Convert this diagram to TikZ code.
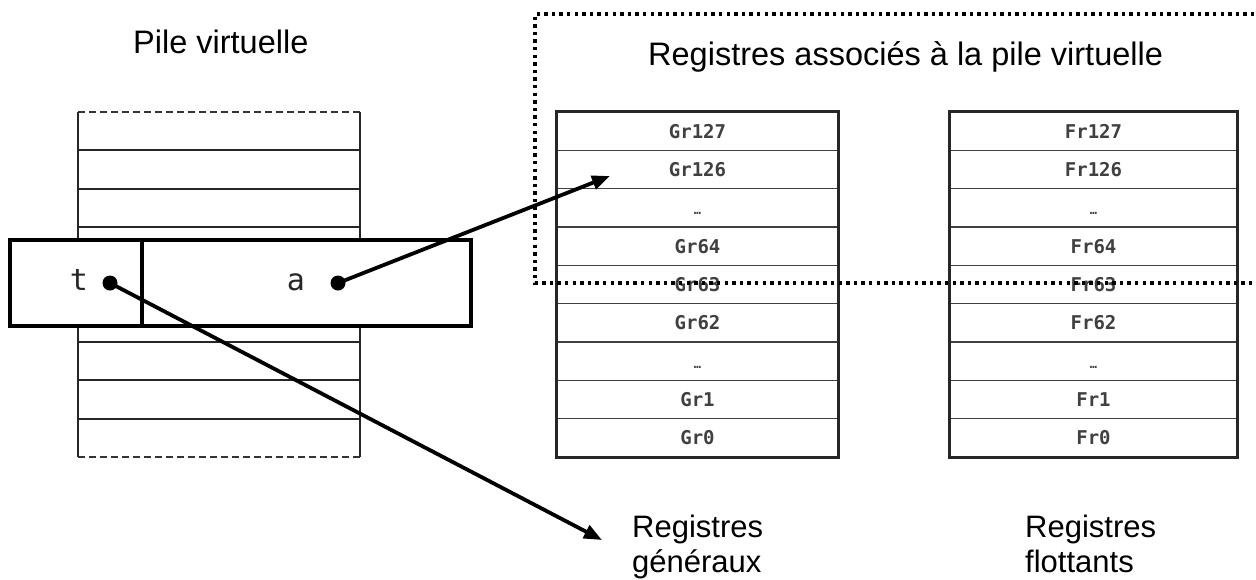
\documentclass[tikz,border=0pt]{standalone}
\usepackage{fontspec}
\setmainfont{Liberation Sans}
\newfontfamily\monofont{DejaVu Sans Mono}
\usetikzlibrary{arrows.meta}
\newcommand\regdots{{\fontsize{12}{12}\selectfont …}}
\begin{document}
\begin{tikzpicture}[x=1pt,y=-1pt,
  stackline/.style={line width=1.8pt, draw=black!85},
  stackside/.style={line width=2.8pt, draw=black!85},
  stackend/.style={line width=1.5pt, draw=black!80, dash pattern=on 7pt off 4pt},
  cellbox/.style={draw=black, line width=3.4pt, fill=white, inner sep=0pt, minimum height=86pt},
  vartext/.style={font=\monofont\fontsize{30}{30}\selectfont, text=black!85, inner sep=0pt},
  dotnode/.style={circle, fill=black, inner sep=0pt, minimum size=15pt},
  regcell/.style={draw=black!75, line width=1.5pt, inner sep=0pt, minimum height=38.33pt,
    text height=14pt, text depth=0pt, font=\monofont\bfseries\fontsize{19}{19}\selectfont, text=black!75},
  regouter/.style={draw=black!85, line width=2.6pt},
  dotline/.style={line width=3.4pt, dash pattern=on 3.4pt off 4.2pt, draw=black},
  ptr/.style={line width=3.8pt, -{Triangle[length=18pt,width=14pt]}},
  titletext/.style={font=\fontsize{32.5}{36}\selectfont, inner sep=0pt},
  labeltext/.style={font=\fontsize{31}{35}\selectfont, inner sep=0pt, align=left}]
\useasboundingbox (0,0) rectangle (1256,579);
\fill[white] (0,0) rectangle (1256,579);

% virtual stack
\foreach \k in {1,...,8} {
  \draw[stackline] (78,{112+38.33*\k}) -- (360,{112+38.33*\k});
}
\draw[stackend] (78,112) -- (360,112);
\draw[stackend] (78,457) -- (360,457);
\draw[stackside] (78,112) -- (78,457);
\draw[stackside] (360,112) -- (360,457);

% t / a frame
\node[cellbox, minimum width=132pt] (tcell) at (76,283) {};
\node[cellbox, minimum width=329pt] (acell) at (306.5,283) {};
\node[vartext, anchor=base] (tlabel) at (79,290) {t};
\node[vartext, anchor=base] (alabel) at (296,290) {a};
\node[dotnode] (tdot) at (110,283) {};
\node[dotnode] (adot) at (338,283) {};

% register columns
\foreach \lab [count=\i from 0] in {Gr127,Gr126,\regdots,Gr64,Gr63,Gr62,\regdots,Gr1,Gr0} {
  \node[regcell, minimum width=281pt] (g\i) at (697.5,{112+38.33*\i+19.165}) {\lab};
}
\draw[regouter] (g0.north west) rectangle (g8.south east);
\foreach \lab [count=\i from 0] in {Fr127,Fr126,\regdots,Fr64,Fr63,Fr62,\regdots,Fr1,Fr0} {
  \node[regcell, minimum width=287pt] (f\i) at (1093.5,{112+38.33*\i+19.165}) {\lab};
}
\draw[regouter] (f0.north west) rectangle (f8.south east);

% dotted region
\draw[dotline] (1262,14) -- (535,14) -- (535,283) -- (1262,283);

% titles and labels
\node[titletext, anchor=base west] (ptitle) at (133,53) {Pile virtuelle};
\node[titletext, anchor=base west] (rtitle) at (648,65) {Registres associés à la pile virtuelle};
\node[labeltext, anchor=north west] (glab) at (632,515) {Registres\\généraux};
\node[labeltext, anchor=north west] (flab) at (1025,515) {Registres\\flottants};

% pointers
\coordinate (aend) at (610,176);
\coordinate (tend) at (602,540);
\draw[ptr] (adot.center) -- (aend);
\draw[ptr] (tdot.center) -- (tend);
\end{tikzpicture}
\end{document}
